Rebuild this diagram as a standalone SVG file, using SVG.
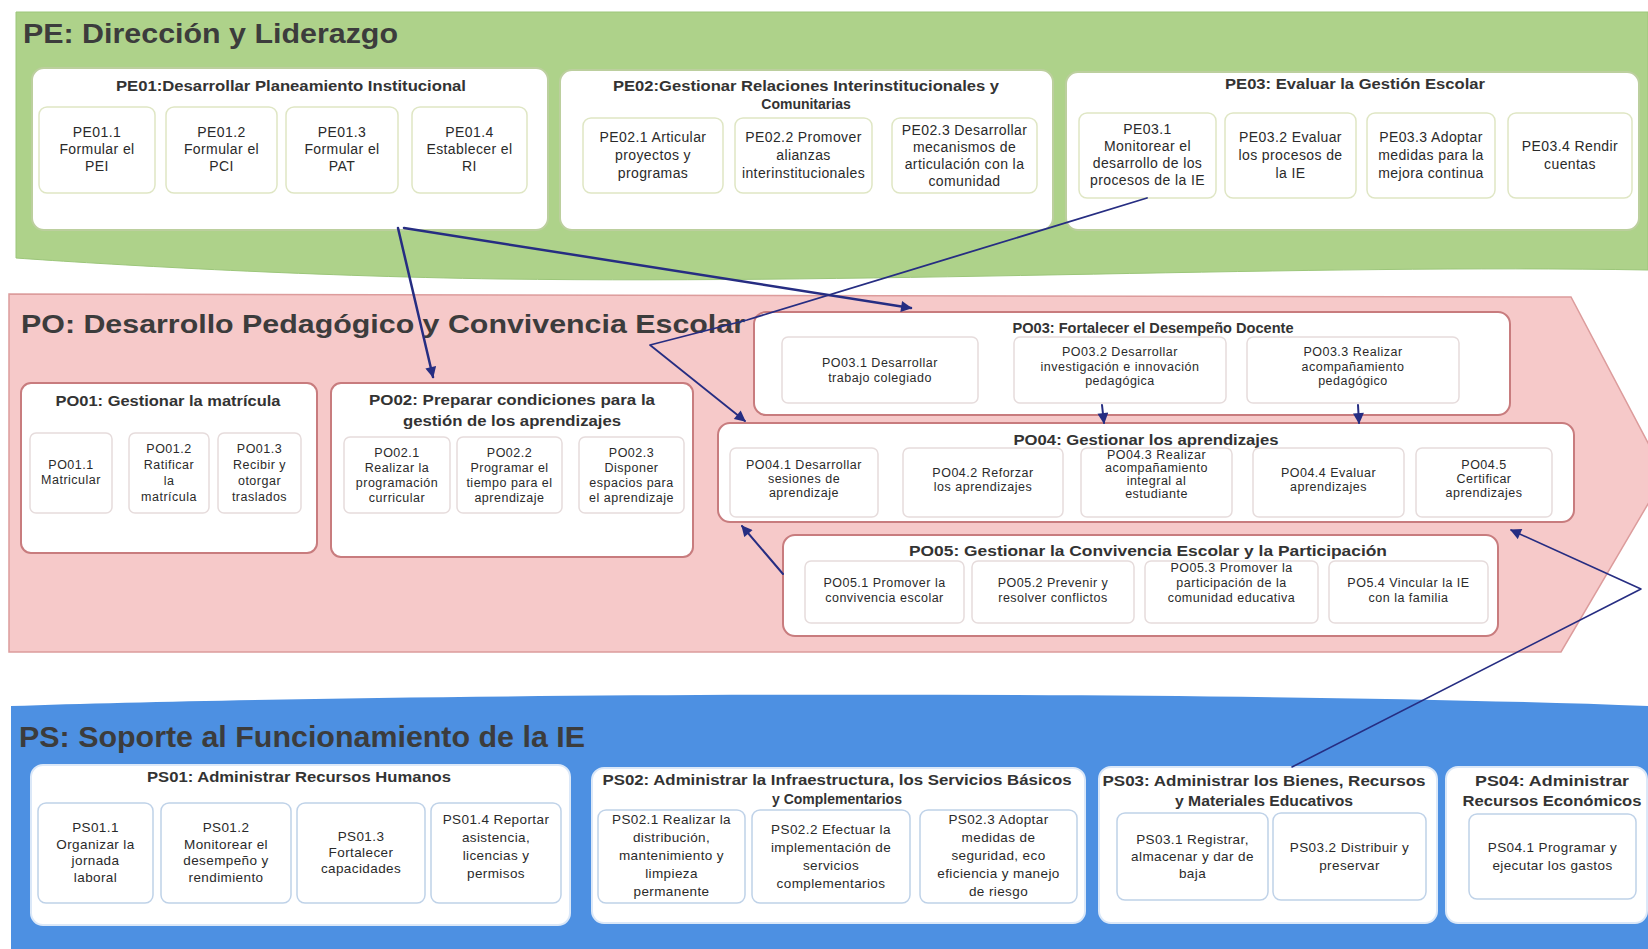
<svg xmlns="http://www.w3.org/2000/svg" width="1648" height="949" viewBox="0 0 1648 949">
<defs>
<style>
.bt{font-family:"Liberation Sans",Arial,sans-serif;font-weight:bold;fill:#3c3c3c}
.ct{font-family:"Liberation Sans",Arial,sans-serif;font-weight:bold;font-size:14px;fill:#333;text-anchor:middle}
.pe{font-family:"Liberation Sans",Arial,sans-serif;font-size:14px;letter-spacing:0.4px;fill:#2a2a2a;text-anchor:middle}
.po{font-family:"Liberation Sans",Arial,sans-serif;font-size:12.5px;letter-spacing:0.5px;fill:#2a2a2a;text-anchor:middle}
.ps{font-family:"Liberation Sans",Arial,sans-serif;font-size:13.5px;letter-spacing:0.4px;fill:#2a2a2a;text-anchor:middle}
.cpe{fill:#fff;stroke:#bccf9e;stroke-width:2}
.spe{fill:#fff;stroke:#dfe6c4;stroke-width:1.5}
.cpo{fill:#fff;stroke:#c87c7e;stroke-width:2}
.spo{fill:#fff;stroke:#e6dcdc;stroke-width:1.5}
.cps{fill:#fff;stroke:#dbe8f8;stroke-width:2}
.sps{fill:#fff;stroke:#bfd2e8;stroke-width:1.5}
.cn{fill:none;stroke:#262d82;stroke-linejoin:round;stroke-linecap:round}
</style>
<marker id="ah" viewBox="0 0 10 10" refX="9" refY="5" markerWidth="13" markerHeight="11" markerUnits="userSpaceOnUse" orient="auto">
<path d="M0,0 L10,5 L0,10 z" fill="#262d82"/>
</marker>
</defs>

<g id="bands">
<path d="M16,12 H1648 V270 C1300,264 900,284 500,279 C300,276 100,264 16,258 Z" fill="#aed28a" stroke="#9cc67a" stroke-width="1"/>
<path d="M9,294 L1571,297 L1665,475 L1561,652 L9,652 Z" fill="#f6c9c9" stroke="#dc9c9c" stroke-width="1.5"/>
<path d="M11,706 C400,693 1200,689 1648,706 V949 H11 Z" fill="#4d90e2"/>
<text class="bt" x="23" y="43" font-size="27" textLength="375" lengthAdjust="spacingAndGlyphs">PE: Dirección y Liderazgo</text>
<text class="bt" x="21" y="333" font-size="26" textLength="724" lengthAdjust="spacingAndGlyphs">PO: Desarrollo Pedagógico y Convivencia Escolar</text>
<text class="bt" x="19" y="747" font-size="30" textLength="566" lengthAdjust="spacingAndGlyphs">PS: Soporte al Funcionamiento de la IE</text>
</g>

<!-- PE -->
<g id="PE01">
<rect class="cpe" x="32" y="68" width="516" height="162" rx="12"/>
<text class="ct" x="291" y="91" textLength="350" lengthAdjust="spacingAndGlyphs">PE01:Desarrollar Planeamiento Institucional</text>
</g>
<g id="PE01_1"><rect class="spe" x="39" y="107" width="116" height="86" rx="8"/>
<text class="pe"><tspan x="97" y="137">PE01.1</tspan><tspan x="97" y="154">Formular el</tspan><tspan x="97" y="171">PEI</tspan></text></g>
<g id="PE01_2"><rect class="spe" x="166" y="107" width="111" height="86" rx="8"/>
<text class="pe"><tspan x="221.5" y="137">PE01.2</tspan><tspan x="221.5" y="154">Formular el</tspan><tspan x="221.5" y="171">PCI</tspan></text></g>
<g id="PE01_3"><rect class="spe" x="286" y="107" width="112" height="86" rx="8"/>
<text class="pe"><tspan x="342" y="137">PE01.3</tspan><tspan x="342" y="154">Formular el</tspan><tspan x="342" y="171">PAT</tspan></text></g>
<g id="PE01_4"><rect class="spe" x="412" y="107" width="115" height="86" rx="8"/>
<text class="pe"><tspan x="469.5" y="137">PE01.4</tspan><tspan x="469.5" y="154">Establecer el</tspan><tspan x="469.5" y="171">RI</tspan></text></g>

<g id="PE02">
<rect class="cpe" x="560" y="70" width="493" height="160" rx="12"/>
<text class="ct"><tspan x="806" y="91" textLength="386" lengthAdjust="spacingAndGlyphs">PE02:Gestionar Relaciones Interinstitucionales y</tspan><tspan x="806" y="109">Comunitarias</tspan></text>
</g>
<g id="PE02_1"><rect class="spe" x="583" y="118" width="140" height="75" rx="8"/>
<text class="pe"><tspan x="653" y="142">PE02.1 Articular</tspan><tspan x="653" y="160">proyectos y</tspan><tspan x="653" y="178">programas</tspan></text></g>
<g id="PE02_2"><rect class="spe" x="735" y="118" width="137" height="75" rx="8"/>
<text class="pe"><tspan x="803.5" y="142">PE02.2 Promover</tspan><tspan x="803.5" y="160">alianzas</tspan><tspan x="803.5" y="178">interinstitucionales</tspan></text></g>
<g id="PE02_3"><rect class="spe" x="892" y="118" width="145" height="75" rx="8"/>
<text class="pe"><tspan x="964.5" y="134.5">PE02.3 Desarrollar</tspan><tspan x="964.5" y="151.5">mecanismos de</tspan><tspan x="964.5" y="168.5">articulación con la</tspan><tspan x="964.5" y="185.5">comunidad</tspan></text></g>

<g id="PE03">
<rect class="cpe" x="1066" y="72" width="573" height="158" rx="12"/>
<text class="ct" x="1355" y="89" textLength="260" lengthAdjust="spacingAndGlyphs">PE03: Evaluar la Gestión Escolar</text>
</g>
<g id="PE03_1"><rect class="spe" x="1079" y="113" width="137" height="85" rx="8"/>
<text class="pe"><tspan x="1147.5" y="134">PE03.1</tspan><tspan x="1147.5" y="151">Monitorear  el</tspan><tspan x="1147.5" y="168">desarrollo de los</tspan><tspan x="1147.5" y="185">procesos de la IE</tspan></text></g>
<g id="PE03_2"><rect class="spe" x="1225" y="113" width="131" height="85" rx="8"/>
<text class="pe"><tspan x="1290.5" y="142">PE03.2 Evaluar</tspan><tspan x="1290.5" y="160">los procesos de</tspan><tspan x="1290.5" y="178">la IE</tspan></text></g>
<g id="PE03_3"><rect class="spe" x="1367" y="113" width="128" height="85" rx="8"/>
<text class="pe"><tspan x="1431" y="142">PE03.3 Adoptar</tspan><tspan x="1431" y="160">medidas para la</tspan><tspan x="1431" y="178">mejora continua</tspan></text></g>
<g id="PE03_4"><rect class="spe" x="1508" y="113" width="124" height="85" rx="8"/>
<text class="pe"><tspan x="1570" y="151">PE03.4 Rendir</tspan><tspan x="1570" y="169">cuentas</tspan></text></g>

<!-- PO -->
<g id="PO01">
<rect class="cpo" x="21" y="383" width="296" height="170" rx="10"/>
<text class="ct" x="168" y="406" textLength="225" lengthAdjust="spacingAndGlyphs">PO01: Gestionar la matrícula</text>
</g>
<g id="PO01_1"><rect class="spo" x="30" y="433" width="82" height="80" rx="6"/>
<text class="po"><tspan x="71" y="469">PO01.1</tspan><tspan x="71" y="484">Matricular</tspan></text></g>
<g id="PO01_2"><rect class="spo" x="129" y="433" width="80" height="80" rx="6"/>
<text class="po"><tspan x="169" y="453">PO01.2</tspan><tspan x="169" y="469">Ratificar</tspan><tspan x="169" y="485">la</tspan><tspan x="169" y="501">matrícula</tspan></text></g>
<g id="PO01_3"><rect class="spo" x="218" y="433" width="83" height="80" rx="6"/>
<text class="po"><tspan x="259.5" y="453">PO01.3</tspan><tspan x="259.5" y="469">Recibir y</tspan><tspan x="259.5" y="485">otorgar</tspan><tspan x="259.5" y="501">traslados</tspan></text></g>

<g id="PO02">
<rect class="cpo" x="331" y="383" width="362" height="174" rx="10"/>
<text class="ct"><tspan x="512" y="405" textLength="286" lengthAdjust="spacingAndGlyphs">PO02: Preparar condiciones para la</tspan><tspan x="512" y="426" textLength="218" lengthAdjust="spacingAndGlyphs">gestión de los aprendizajes</tspan></text>
</g>
<g id="PO02_1"><rect class="spo" x="344" y="437" width="106" height="76" rx="6"/>
<text class="po"><tspan x="397" y="457">PO02.1</tspan><tspan x="397" y="472">Realizar la</tspan><tspan x="397" y="487">programación</tspan><tspan x="397" y="502">curricular</tspan></text></g>
<g id="PO02_2"><rect class="spo" x="457" y="437" width="105" height="76" rx="6"/>
<text class="po"><tspan x="509.5" y="457">PO02.2</tspan><tspan x="509.5" y="472">Programar el</tspan><tspan x="509.5" y="487">tiempo para el</tspan><tspan x="509.5" y="502">aprendizaje</tspan></text></g>
<g id="PO02_3"><rect class="spo" x="579" y="437" width="105" height="76" rx="6"/>
<text class="po"><tspan x="631.5" y="457">PO02.3</tspan><tspan x="631.5" y="472">Disponer</tspan><tspan x="631.5" y="487">espacios para</tspan><tspan x="631.5" y="502">el aprendizaje</tspan></text></g>

<g id="PO03">
<rect class="cpo" x="754" y="312" width="756" height="103" rx="12"/>
<text class="ct" x="1153" y="333" textLength="281" lengthAdjust="spacingAndGlyphs">PO03: Fortalecer el Desempeño Docente</text>
</g>
<g id="PO03_1"><rect class="spo" x="782" y="337" width="196" height="66" rx="6"/>
<text class="po"><tspan x="880" y="367">PO03.1 Desarrollar</tspan><tspan x="880" y="382">trabajo colegiado</tspan></text></g>
<g id="PO03_2"><rect class="spo" x="1014" y="337" width="212" height="66" rx="6"/>
<text class="po"><tspan x="1120" y="356">PO03.2 Desarrollar</tspan><tspan x="1120" y="370.5">investigación e innovación</tspan><tspan x="1120" y="385">pedagógica</tspan></text></g>
<g id="PO03_3"><rect class="spo" x="1247" y="337" width="212" height="66" rx="6"/>
<text class="po"><tspan x="1353" y="356">PO03.3 Realizar</tspan><tspan x="1353" y="370.5">acompañamiento</tspan><tspan x="1353" y="385">pedagógico</tspan></text></g>

<g id="PO04">
<rect class="cpo" x="718" y="423" width="856" height="99" rx="12"/>
<text class="ct" x="1146" y="445" textLength="265" lengthAdjust="spacingAndGlyphs">PO04: Gestionar los aprendizajes</text>
</g>
<g id="PO04_1"><rect class="spo" x="730" y="448" width="148" height="69" rx="6"/>
<text class="po"><tspan x="804" y="469">PO04.1 Desarrollar</tspan><tspan x="804" y="483">sesiones de</tspan><tspan x="804" y="497">aprendizaje</tspan></text></g>
<g id="PO04_2"><rect class="spo" x="903" y="448" width="160" height="69" rx="6"/>
<text class="po"><tspan x="983" y="477">PO04.2 Reforzar</tspan><tspan x="983" y="491">los aprendizajes</tspan></text></g>
<g id="PO04_3"><rect class="spo" x="1081" y="448" width="151" height="69" rx="6"/>
<text class="po" font-size="11.5"><tspan x="1156.5" y="459">PO04.3 Realizar</tspan><tspan x="1156.5" y="472">acompañamiento</tspan><tspan x="1156.5" y="485">integral al</tspan><tspan x="1156.5" y="498">estudiante</tspan></text></g>
<g id="PO04_4"><rect class="spo" x="1253" y="448" width="151" height="69" rx="6"/>
<text class="po"><tspan x="1328.5" y="477">PO04.4 Evaluar</tspan><tspan x="1328.5" y="491">aprendizajes</tspan></text></g>
<g id="PO04_5"><rect class="spo" x="1416" y="448" width="136" height="69" rx="6"/>
<text class="po"><tspan x="1484" y="469">PO04.5</tspan><tspan x="1484" y="483">Certificar</tspan><tspan x="1484" y="497">aprendizajes</tspan></text></g>

<g id="PO05">
<rect class="cpo" x="783" y="535" width="715" height="101" rx="12"/>
<text class="ct" x="1148" y="556" textLength="478" lengthAdjust="spacingAndGlyphs">PO05: Gestionar la Convivencia Escolar y la Participación</text>
</g>
<g id="PO05_1"><rect class="spo" x="805" y="561" width="159" height="62" rx="6"/>
<text class="po"><tspan x="884.5" y="587">PO05.1 Promover la</tspan><tspan x="884.5" y="602">convivencia escolar</tspan></text></g>
<g id="PO05_2"><rect class="spo" x="972" y="561" width="162" height="62" rx="6"/>
<text class="po"><tspan x="1053" y="587">PO05.2 Prevenir y</tspan><tspan x="1053" y="602">resolver conflictos</tspan></text></g>
<g id="PO05_3"><rect class="spo" x="1145" y="561" width="173" height="62" rx="6"/>
<text class="po"><tspan x="1231.5" y="572">PO05.3 Promover la</tspan><tspan x="1231.5" y="587">participación de la</tspan><tspan x="1231.5" y="602">comunidad educativa</tspan></text></g>
<g id="PO05_4"><rect class="spo" x="1329" y="561" width="159" height="62" rx="6"/>
<text class="po"><tspan x="1408.5" y="587">PO5.4 Vincular la IE</tspan><tspan x="1408.5" y="602">con la familia</tspan></text></g>

<!-- PS -->
<g id="PS01">
<rect class="cps" x="31" y="765" width="539" height="160" rx="12"/>
<text class="ct" x="299" y="782" textLength="304" lengthAdjust="spacingAndGlyphs">PS01: Administrar Recursos Humanos</text>
</g>
<g id="PS01_1"><rect class="sps" x="38" y="803" width="115" height="100" rx="8"/>
<text class="ps"><tspan x="95.5" y="832">PS01.1</tspan><tspan x="95.5" y="848.5">Organizar la</tspan><tspan x="95.5" y="865">jornada</tspan><tspan x="95.5" y="881.5">laboral</tspan></text></g>
<g id="PS01_2"><rect class="sps" x="161" y="803" width="130" height="100" rx="8"/>
<text class="ps"><tspan x="226" y="832">PS01.2</tspan><tspan x="226" y="848.5">Monitorear el</tspan><tspan x="226" y="865">desempeño y</tspan><tspan x="226" y="881.5">rendimiento</tspan></text></g>
<g id="PS01_3"><rect class="sps" x="297" y="803" width="128" height="100" rx="8"/>
<text class="ps"><tspan x="361" y="841">PS01.3</tspan><tspan x="361" y="857">Fortalecer</tspan><tspan x="361" y="873">capacidades</tspan></text></g>
<g id="PS01_4"><rect class="sps" x="431" y="803" width="130" height="100" rx="8"/>
<text class="ps"><tspan x="496" y="824">PS01.4 Reportar</tspan><tspan x="496" y="842">asistencia,</tspan><tspan x="496" y="860">licencias y</tspan><tspan x="496" y="878">permisos</tspan></text></g>

<g id="PS02">
<rect class="cps" x="592" y="768" width="493" height="155" rx="12"/>
<text class="ct"><tspan x="837" y="785" textLength="469" lengthAdjust="spacingAndGlyphs">PS02: Administrar la Infraestructura,  los Servicios Básicos</tspan><tspan x="837" y="804">y Complementarios</tspan></text>
</g>
<g id="PS02_1"><rect class="sps" x="598" y="810" width="147" height="93" rx="8"/>
<text class="ps"><tspan x="671.5" y="824">PS02.1 Realizar la</tspan><tspan x="671.5" y="842">distribución,</tspan><tspan x="671.5" y="860">mantenimiento y</tspan><tspan x="671.5" y="878">limpieza</tspan><tspan x="671.5" y="896">permanente</tspan></text></g>
<g id="PS02_2"><rect class="sps" x="752" y="810" width="158" height="93" rx="8"/>
<text class="ps"><tspan x="831" y="834">PS02.2 Efectuar la</tspan><tspan x="831" y="852">implementación de</tspan><tspan x="831" y="870">servicios</tspan><tspan x="831" y="888">complementarios</tspan></text></g>
<g id="PS02_3"><rect class="sps" x="920" y="810" width="157" height="93" rx="8"/>
<text class="ps"><tspan x="998.5" y="824">PS02.3 Adoptar</tspan><tspan x="998.5" y="842">medidas de</tspan><tspan x="998.5" y="860">seguridad, eco</tspan><tspan x="998.5" y="878">eficiencia y manejo</tspan><tspan x="998.5" y="896">de riesgo</tspan></text></g>

<g id="PS03">
<rect class="cps" x="1099" y="767" width="338" height="156" rx="12"/>
<text class="ct"><tspan x="1264" y="786" textLength="323" lengthAdjust="spacingAndGlyphs">PS03: Administrar los Bienes, Recursos</tspan><tspan x="1264" y="806" textLength="178" lengthAdjust="spacingAndGlyphs">y Materiales Educativos</tspan></text>
</g>
<g id="PS03_1"><rect class="sps" x="1117" y="813" width="151" height="87" rx="8"/>
<text class="ps"><tspan x="1192.5" y="844">PS03.1 Registrar,</tspan><tspan x="1192.5" y="861">almacenar y dar de</tspan><tspan x="1192.5" y="878">baja</tspan></text></g>
<g id="PS03_2"><rect class="sps" x="1273" y="813" width="153" height="87" rx="8"/>
<text class="ps"><tspan x="1349.5" y="852">PS03.2 Distribuir y</tspan><tspan x="1349.5" y="870">preservar</tspan></text></g>

<g id="PS04">
<rect class="cps" x="1446" y="767" width="201" height="156" rx="12"/>
<text class="ct"><tspan x="1552" y="786" textLength="154" lengthAdjust="spacingAndGlyphs">PS04: Administrar</tspan><tspan x="1552" y="806" textLength="179" lengthAdjust="spacingAndGlyphs">Recursos Económicos</tspan></text>
</g>
<g id="PS04_1"><rect class="sps" x="1469" y="814" width="167" height="85" rx="8"/>
<text class="ps"><tspan x="1552.5" y="852">PS04.1 Programar y</tspan><tspan x="1552.5" y="870">ejecutar los gastos</tspan></text></g>

<g id="connectors">
<path class="cn" d="M398,228 L433,377" stroke-width="2.5" marker-end="url(#ah)"/>
<path class="cn" d="M404,228 L911,308" stroke-width="2.5" marker-end="url(#ah)"/>
<path class="cn" d="M1147,198 L747,320 L650,345 L745,421" stroke-width="1.8" marker-end="url(#ah)"/>
<path class="cn" d="M1102,405 L1104,423" stroke-width="2" marker-end="url(#ah)"/>
<path class="cn" d="M1358,405 L1359,423" stroke-width="2" marker-end="url(#ah)"/>
<path class="cn" d="M783,574 L742,526" stroke-width="2" marker-end="url(#ah)"/>
<path class="cn" d="M1292,767 L1641,589 L1511,530" stroke-width="1.6" marker-end="url(#ah)"/>
</g>
</svg>
